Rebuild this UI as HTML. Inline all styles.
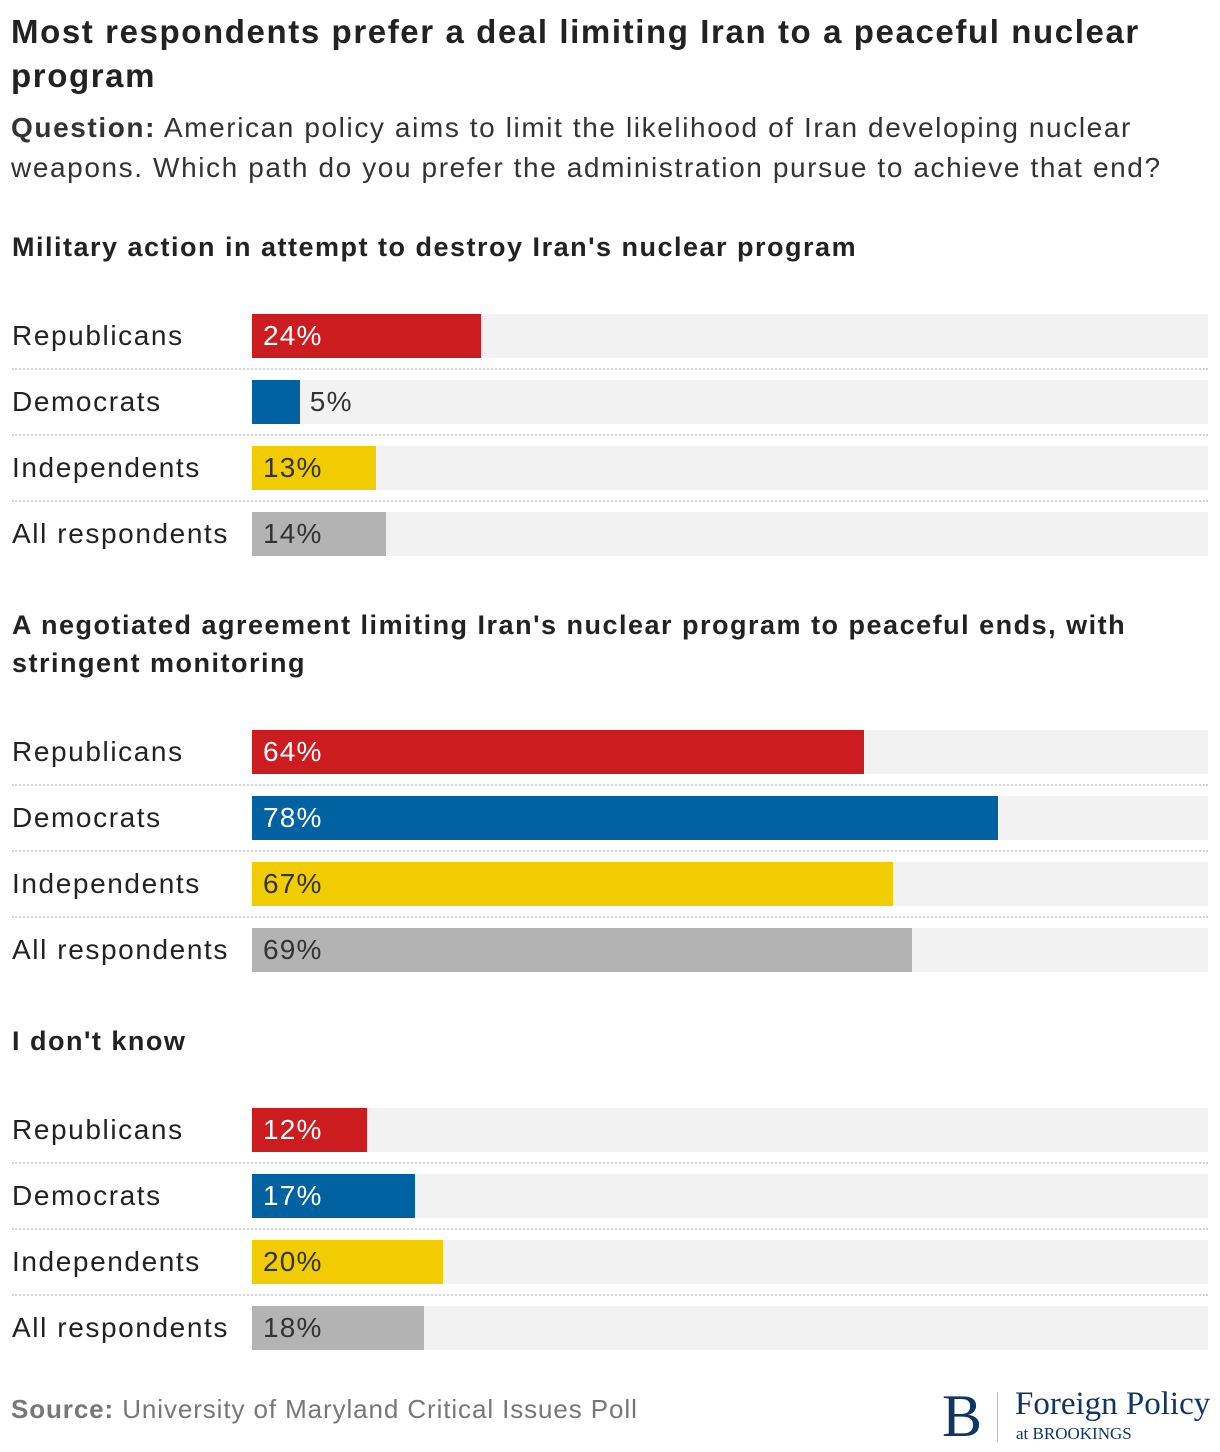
<!DOCTYPE html>
<html><head><meta charset="utf-8">
<style>
body{margin:0;background:#fff;font-family:"Liberation Sans",sans-serif;color:#222;}
#root{position:relative;width:1220px;height:1452px;overflow:hidden;}
.t{position:absolute;white-space:nowrap;}
.title{left:11px;top:10px;font-size:33px;font-weight:bold;line-height:44px;color:#222;letter-spacing:1.6px;}
.sub{left:11px;top:108px;font-size:28px;line-height:40px;color:#333;letter-spacing:1.6px;}
.head{font-size:27px;font-weight:bold;line-height:38px;left:12px;color:#222;letter-spacing:1.5px;}
.lab{font-size:28px;left:12px;line-height:44px;color:#222;letter-spacing:1.6px;}
.bg{position:absolute;left:252px;width:956px;height:44px;background:#f2f2f2;}
.bar{position:absolute;left:252px;height:44px;}
.val{position:absolute;font-size:28px;line-height:44px;letter-spacing:1.2px;}
.sep{position:absolute;left:12px;width:1196px;border-top:2px dotted #d4d4d4;height:0;}
</style></head><body>
<div id="root">
<div class="t title">Most respondents prefer a deal limiting Iran to a peaceful nuclear<br>program</div>
<div class="t sub"><b>Question:</b> American policy aims to limit the likelihood of Iran developing nuclear<br>weapons. Which path do you prefer the administration pursue to achieve that end?</div>
<div class="t" style="left:11px;top:1392px;font-size:26px;line-height:34px;color:#777;letter-spacing:0.9px;"><b>Source:</b> University of Maryland Critical Issues Poll</div>
<div class="t" style="left:942px;top:1386px;font-family:'Liberation Serif',serif;font-size:60px;line-height:60px;color:#0f3466;">B</div>
<div style="position:absolute;left:997px;top:1392px;width:1px;height:50px;background:#b8c2d2;"></div>
<div class="t" style="left:1015px;top:1386px;font-family:'Liberation Serif',serif;font-size:33px;line-height:36px;color:#0f3466;">Foreign Policy</div>
<div class="t" style="left:1016px;top:1424px;font-family:'Liberation Serif',serif;font-size:17px;line-height:20px;color:#0f3466;">at BROOKINGS</div>
</div>
<script>
const groups=["Republicans","Democrats","Independents","All respondents"];
const sectionTitles=["Military action in attempt to destroy Iran's nuclear program","A negotiated agreement limiting Iran's nuclear program to peaceful ends, with<br>stringent monitoring","I don't know"];
const militaryValues=[24,5,13,14];
const agreementValues=[64,78,67,69];
const dontKnowValues=[12,17,20,18];
const colors=["#cc1c20","#0062a0","#f0cc00","#b3b3b3"];
const textColors=["#fff","#fff","#333","#333"];
const sections=[militaryValues,agreementValues,dontKnowValues];
const headTops=[228,606,1022];
const barTops=[314,730,1108];
const root=document.getElementById('root');
const xScale=v=>v/100*956;
sections.forEach((vals,s)=>{
  const h=document.createElement('div');
  h.className='t head';h.style.top=headTops[s]+'px';h.innerHTML=sectionTitles[s];
  
  
  root.appendChild(h);
  vals.forEach((v,i)=>{
    const y=barTops[s]+i*66;
    const l=document.createElement('div');l.className='t lab';l.style.top=y+'px';l.textContent=groups[i];
    
    
    root.appendChild(l);
    const bg=document.createElement('div');bg.className='bg';bg.style.top=y+'px';
    
    
    root.appendChild(bg);
    const w=xScale(v);
    const b=document.createElement('div');b.className='bar';b.style.top=y+'px';b.style.width=w+'px';b.style.background=colors[i];
    
    
    root.appendChild(b);
    const t=document.createElement('div');t.className='val';t.style.top=y+'px';t.textContent=v+'%';
    const inside=w>=60;
    t.style.left=(inside?252+11:252+w+10)+'px';
    t.style.color=inside?textColors[i]:'#333';
    
    
    root.appendChild(t);
    if(i<3){const sp=document.createElement('div');sp.className='sep';sp.style.top=(y+54)+'px';
      
      
      root.appendChild(sp);}
  });
});
</script>
</body></html>
